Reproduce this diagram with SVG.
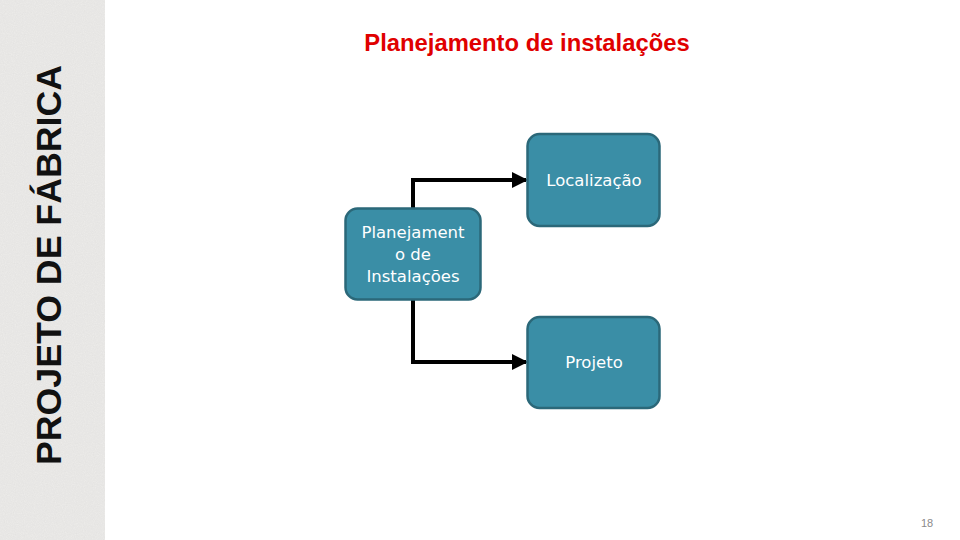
<svg xmlns="http://www.w3.org/2000/svg" width="960" height="540" viewBox="0 0 960 540">
  <defs>
    <style>
      .box { fill: #3a8ea6; stroke: #2b6879; stroke-width: 2.5; }
      .lbl { fill: #ffffff; font-family: "DejaVu Sans", "Liberation Sans", sans-serif; font-size: 16.5px; text-anchor: middle; }
      .conn { fill: none; stroke: #000000; stroke-width: 4; }
    </style>
    <marker id="arrow" markerWidth="4" markerHeight="4" refX="3.5" refY="2" orient="auto" markerUnits="strokeWidth">
      <path d="M0,0 L4,2 L0,4 Z" fill="#000000"/>
    </marker>
    <filter id="grain" x="0" y="0" width="100%" height="100%">
      <feTurbulence type="fractalNoise" baseFrequency="0.9" numOctaves="2" seed="3" result="n"/>
      <feColorMatrix type="matrix" values="0 0 0 0 0  0 0 0 0 0  0 0 0 0 0  0 0 0 0.05 0" in="n" result="m"/>
      <feComposite in="m" in2="SourceGraphic" operator="in"/>
    </filter>
  </defs>
  <rect x="0" y="0" width="960" height="540" fill="#ffffff"/>
  <g id="sidebar">
    <rect x="0" y="0" width="105" height="540" fill="#eeedeb"/>
    <rect x="0" y="0" width="105" height="540" fill="#eeedeb" filter="url(#grain)"/>
    <text transform="translate(61,265) rotate(-90)" text-anchor="middle" font-family="Liberation Sans, Arial, sans-serif" font-size="35" font-weight="bold" fill="#111111" textLength="400" lengthAdjust="spacingAndGlyphs">PROJETO DE FÁBRICA</text>
  </g>
  <text id="title" x="527" y="51" text-anchor="middle" font-family="Liberation Sans, Arial, sans-serif" font-size="23.8" font-weight="bold" fill="#e00000">Planejamento de instalações</text>
  <g id="connectors">
    <path class="conn" d="M413,208 V180 H526" marker-end="url(#arrow)"/>
    <path class="conn" d="M413,299 V362 H526" marker-end="url(#arrow)"/>
  </g>
  <g id="node-planejamento">
    <rect class="box" x="345.5" y="208.5" width="135" height="91" rx="12"/>
    <text class="lbl" x="413" y="238">Planejament</text>
    <text class="lbl" x="413" y="260">o de</text>
    <text class="lbl" x="413" y="282">Instalações</text>
  </g>
  <g id="node-localizacao">
    <rect class="box" x="527.5" y="134" width="132" height="92" rx="12"/>
    <text class="lbl" x="594" y="186">Localização</text>
  </g>
  <g id="node-projeto">
    <rect class="box" x="527.5" y="317" width="132" height="91" rx="12"/>
    <text class="lbl" x="594" y="368">Projeto</text>
  </g>
  <text id="page-number" x="927" y="527" text-anchor="middle" font-family="Liberation Sans, Arial, sans-serif" font-size="11" fill="#8a8a8a">18</text>
</svg>
